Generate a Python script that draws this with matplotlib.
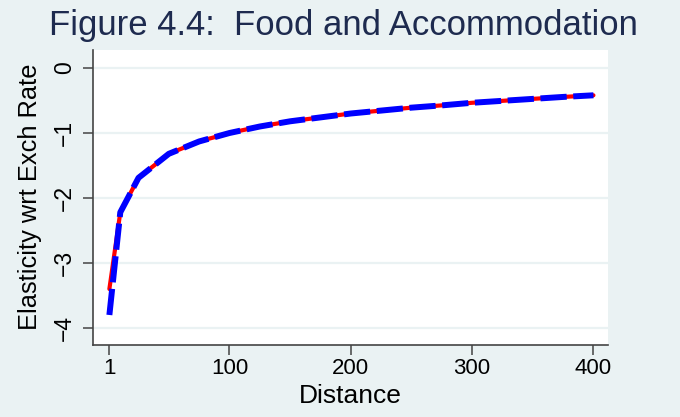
import matplotlib
matplotlib.use("Agg")
import matplotlib.pyplot as plt

plt.rcParams['font.family'] = ['Liberation Sans', 'DejaVu Sans']

distance = [1, 10, 25, 50, 75, 100, 125, 150, 175, 200, 225, 250, 275, 300, 325, 350, 375, 400]
elast_red = [-3.40, -2.22, -1.69, -1.32, -1.13, -1.00, -0.90, -0.82, -0.76, -0.70,
             -0.655, -0.61, -0.575, -0.535, -0.505, -0.475, -0.445, -0.42]
elast_blue = [-3.80, -2.22, -1.69, -1.32, -1.13, -1.00, -0.90, -0.82, -0.76, -0.70,
              -0.655, -0.61, -0.575, -0.535, -0.505, -0.475, -0.445, -0.42]
xticks = [1, 100, 200, 300, 400]
yticks = [0, -1, -2, -3, -4]
ytick_labels = ['0', '\u22121', '\u22122', '\u22123', '\u22124']

bg = '#EAF2F3'
fig = plt.figure(figsize=(6.8, 4.17), dpi=100, facecolor=bg)
ax = fig.add_axes([93/680, 1 - 344.5/417, (608-93)/680, (344.5-50)/417])
ax.set_facecolor('white')

for yv in yticks:
    ax.axhline(yv, color=bg, lw=1.6, zorder=0)

ax.plot(distance, elast_red, color='#FF0000', lw=3.0, solid_capstyle='round', zorder=2)
ax.plot(distance, elast_blue, color='#0000FF', lw=4.3, dashes=(4.4, 1.1),
        dash_capstyle='butt', zorder=3)

ax.set_xlim(-12.5, 412)
ax.set_ylim(-4.254, 0.277)
ax.set_xticks(xticks)
ax.set_xticklabels([str(v) for v in xticks], fontsize=16)
ax.set_yticks(yticks)
ax.set_yticklabels(ytick_labels, fontsize=16.5, rotation=90, va='center')

for s in ['top', 'right']:
    ax.spines[s].set_visible(False)
for s in ['left', 'bottom']:
    ax.spines[s].set_color('#444444')
    ax.spines[s].set_linewidth(1.2)
ax.tick_params(axis='both', direction='out', length=7, width=1.1, color='#444444', labelcolor='black')
ax.tick_params(axis='x', pad=3)
ax.tick_params(axis='y', pad=5)

ax.set_xlabel('Distance', fontsize=19, labelpad=3)
ax.set_ylabel('Elasticity wrt Exch Rate', fontsize=18.3, labelpad=8)

fig.text(343/680, 1 - 26/417, 'Figure 4.4:  Food and Accommodation', fontsize=25,
         color='#1E2B4F', ha='center', va='center')

fig.savefig('out.png', dpi=100, facecolor=bg)
